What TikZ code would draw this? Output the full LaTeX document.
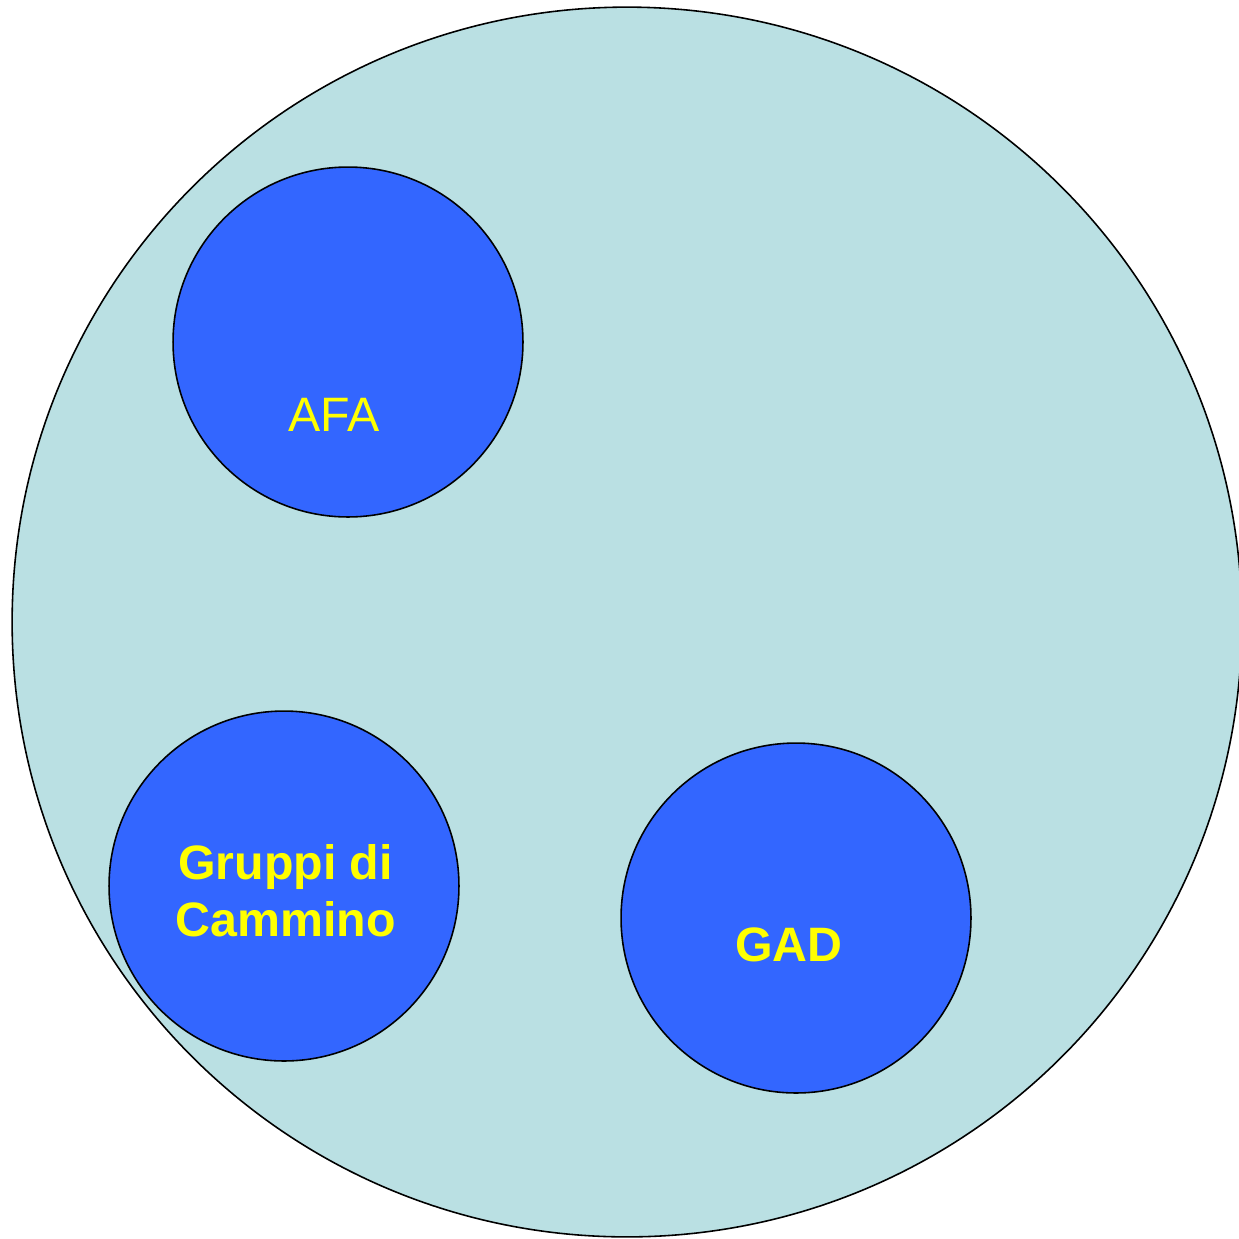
\documentclass[tikz,border=0pt]{standalone}
\usepackage{fontspec}
\setmainfont{Liberation Sans}
\definecolor{pond}{HTML}{BAE0E3}
\definecolor{disc}{HTML}{3366FF}
\definecolor{tag}{HTML}{FFFF00}
\begin{document}
\begin{tikzpicture}[x=0.02cm,y=-0.02cm,
  outer/.style={circle,draw=black,line width=0.9pt,fill=pond,minimum size=24.6cm,inner sep=0pt},
  group/.style={circle,draw=black,line width=0.9pt,fill=disc,minimum size=7cm,inner sep=0pt},
  tagtext/.style={text=tag,font=\fontsize{27.5}{32.3}\selectfont,align=center,inner sep=0pt},
  tagbold/.style={tagtext,font=\fontsize{27.5}{32.3}\selectfont\bfseries}]
  \useasboundingbox (0,0) rectangle (1239,1238);
  \clip (0,0) rectangle (1239,1238);
  \node[outer] (all) at (627,622) {};
  \node[group] (afa) at (348,342) {};
  \node[group] (gdc) at (284,886) {};
  \node[group] (gad) at (796,918) {};
  \node[tagtext,anchor=base] (afat) at (334,431) {AFA};
  \node[tagbold] (gdct) at (285.5,891) {Gruppi di\\Cammino};
  \node[tagbold,anchor=base] (gadt) at (789,961) {GAD};
\end{tikzpicture}
\end{document}
